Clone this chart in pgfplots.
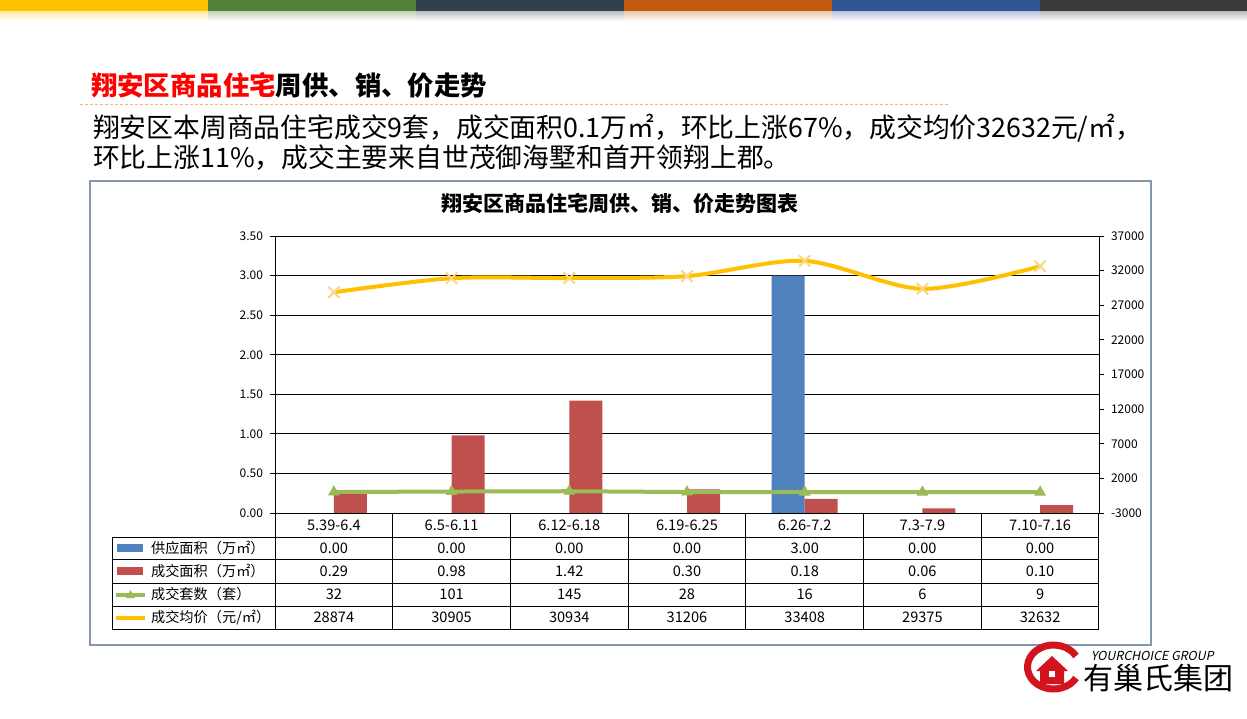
\documentclass[border=0pt]{standalone}
\usepackage{pgfplots}
\pgfplotsset{compat=1.18}
\usepackage{pgfplotstable}
\usepackage{fontspec}
\setmainfont{Noto Sans CJK SC}
\newfontfamily\slantfont{Noto Sans CJK SC}[FakeSlant=0.2]
\definecolor{barblue}{RGB}{79,129,189}
\definecolor{barred}{RGB}{192,80,77}
\definecolor{lgreen}{RGB}{155,187,89}
\definecolor{lgold}{RGB}{255,192,0}
\definecolor{mgold}{RGB}{250,215,130}
\definecolor{boxc}{RGB}{132,151,176}
\definecolor{s1}{RGB}{255,192,0}
\definecolor{s2}{RGB}{83,129,53}
\definecolor{s3}{RGB}{50,63,79}
\definecolor{s4}{RGB}{197,90,17}
\definecolor{s5}{RGB}{47,85,151}
\definecolor{s6}{RGB}{58,58,58}
\definecolor{logored}{RGB}{210,20,30}

% x = category centre, supply/sold in 10k m2, count in units, price in yuan/m2
\pgfplotstableread{
x   supply sold count price
0.5 0.00   0.29 32    28874
1.5 0.00   0.98 101   30905
2.5 0.00   1.42 145   30934
3.5 0.00   0.30 28    31206
4.5 3.00   0.18 16    33408
5.5 0.00   0.06 6     29375
6.5 0.00   0.10 9     32632
}\weekdata

\pgfplotsset{
  twin/.style={
    at={(137.5pt,-256.5pt)}, anchor=south west,
    width=412pt, height=138.5pt, scale only axis,
    xmin=0, xmax=7, xtick=\empty,
    axis line style={black, line width=0.5pt},
    tick align=outside, major tick length=2.5pt,
    tick style={black, line width=0.4pt},
    yticklabel style={font=\fontsize{6}{7}\selectfont},
    /pgf/number format/assume math mode=true,
    scaled y ticks=false,
    clip=false,
  }
}

\begin{document}
\begin{tikzpicture}
\begin{scope}[x=0.5pt,y=-0.5pt]
\fill[white] (0,0) rectangle (1247,718);
\path[use as bounding box] (0,0) rectangle (1247,718);

% top colour band
\foreach \c [count=\i from 0] in {s1,s2,s3,s4,s5,s6}{
  \fill[\c] (\i*208,0) rectangle (\i*208+208,11);
  \shade[top color=\c!35, bottom color=white] (\i*208,11) rectangle (\i*208+208,21);
}

% headline and summary
\node[anchor=west,font=\fontsize{13.2}{15}\selectfont\bfseries] at (84,85)
  {\textcolor{red}{翔安区商品住宅}周供、销、价走势};
\draw[orange!60, dash pattern=on 1.5pt off 1pt, line width=0.5pt] (80,104) -- (948,104);
\node[anchor=west,font=\fontsize{13.4}{15}\selectfont] at (86,128)
  {翔安区本周商品住宅成交9套，成交面积0.1万㎡，环比上涨67\%，成交均价32632元/㎡，};
\node[anchor=west,font=\fontsize{13.4}{15}\selectfont] at (86,158)
  {环比上涨11\%，成交主要来自世茂御海墅和首开领翔上郡。};

% chart frame and title
\draw[boxc, line width=0.6pt] (90,181) rectangle (1151,645);
\node[font=\fontsize{10.5}{12}\selectfont\bfseries] at (620,203) {翔安区商品住宅周供、销、价走势图表};
\end{scope}

% bars on the left axis
\begin{axis}[twin,
  ymin=0, ymax=3.5,
  ytick={0,0.5,...,3.5},
  ymajorgrids, grid style={black, line width=0.5pt},
  axis y line*=left, axis x line*=bottom,
  /pgf/number format/.cd, fixed, fixed zerofill, precision=2,
  /pgfplots/.cd,
  ybar=0pt, bar width=16.5pt,
]
\addplot[fill=barblue, draw=none] table[x=x, y=supply]{\weekdata};
\addplot[fill=barred, draw=none] table[x=x, y=sold]{\weekdata};
\draw[black, line width=0.5pt] (axis cs:0,3.5) -- (axis cs:7,3.5);
\end{axis}

% lines on the right axis
\begin{axis}[twin,
  ymin=-3000, ymax=37000,
  ytick={-3000,2000,...,37000},
  axis y line*=right, axis x line=none,
  /pgf/number format/1000 sep={},
]
\addplot[lgreen, line width=2pt, mark=triangle*, mark size=3pt,
  mark options={fill=lgreen, draw=lgreen, line width=0.4pt}]
  table[x=x, y=count]{\weekdata};
\addplot[lgold, line width=2pt, smooth, mark=x, mark size=4pt,
  mark options={draw=mgold, line width=1pt}]
  table[x=x, y=price]{\weekdata};
\end{axis}

\begin{scope}[x=0.5pt,y=-0.5pt]
% data table under the plot
\draw[black, line width=0.5pt] (275,513) -- (1099,513);
\foreach \yy in {537,559,583,606,629}{ \draw[black, line width=0.5pt] (112,\yy) -- (1099,\yy); }
\draw[black, line width=0.5pt] (112,537) -- (112,629);
\foreach \i in {0,...,7}{ \draw[black, line width=0.5pt] (275+\i*117.71,513) -- (275+\i*117.71,629); }

\foreach \t [count=\i from 0] in {5.39-6.4,6.5-6.11,6.12-6.18,6.19-6.25,6.26-7.2,7.3-7.9,7.10-7.16}{
  \node[font=\fontsize{7.3}{8}\selectfont] at (275+\i*117.71+58.85,525) {\t};
}
\foreach \t [count=\i from 0] in {0.00,0.00,0.00,0.00,3.00,0.00,0.00}{
  \node[font=\fontsize{7.3}{8}\selectfont] at (275+\i*117.71+58.85,548) {\t};
}
\foreach \t [count=\i from 0] in {0.29,0.98,1.42,0.30,0.18,0.06,0.10}{
  \node[font=\fontsize{7.3}{8}\selectfont] at (275+\i*117.71+58.85,571) {\t};
}
\foreach \t [count=\i from 0] in {32,101,145,28,16,6,9}{
  \node[font=\fontsize{7.3}{8}\selectfont] at (275+\i*117.71+58.85,594.5) {\t};
}
\foreach \t [count=\i from 0] in {28874,30905,30934,31206,33408,29375,32632}{
  \node[font=\fontsize{7.3}{8}\selectfont] at (275+\i*117.71+58.85,617.5) {\t};
}

% legend keys in the first column
\fill[barblue] (117,544) rectangle (143,552);
\fill[barred] (117,567) rectangle (143,575);
\draw[lgreen, line width=2pt] (116,594.5) -- (145,594.5);
\fill[lgreen] (126,598) -- (135,598) -- (130.5,590) -- cycle;
\draw[lgold, line width=2pt] (116,617.5) -- (145,617.5);
\node[anchor=west,font=\fontsize{7.1}{8}\selectfont] at (144,548) {供应面积（万㎡）};
\node[anchor=west,font=\fontsize{7.1}{8}\selectfont] at (144,571) {成交面积（万㎡）};
\node[anchor=west,font=\fontsize{7.1}{8}\selectfont] at (144,594.5) {成交套数（套）};
\node[anchor=west,font=\fontsize{7.1}{8}\selectfont] at (144,617.5) {成交均价（元/㎡）};

% company logo
\draw[logored, line width=3.5pt] (1076,656) arc[start angle=-30, end angle=-330, x radius=26, y radius=22];
\fill[logored] (1036,671) -- (1052,656) -- (1068,671) -- (1064,671) -- (1064,684) -- (1040,684) -- (1040,671) -- cycle;
\fill[white] (1049,671) rectangle (1055,677);
\node[anchor=west,font=\fontsize{6.2}{7}\selectfont\slantfont] at (1084,656) {YOURCHOICE GROUP};
\node[anchor=west,font=\fontsize{15}{17}\selectfont] at (1076,678) {有巢氏集团};
\end{scope}
\end{tikzpicture}
\end{document}
